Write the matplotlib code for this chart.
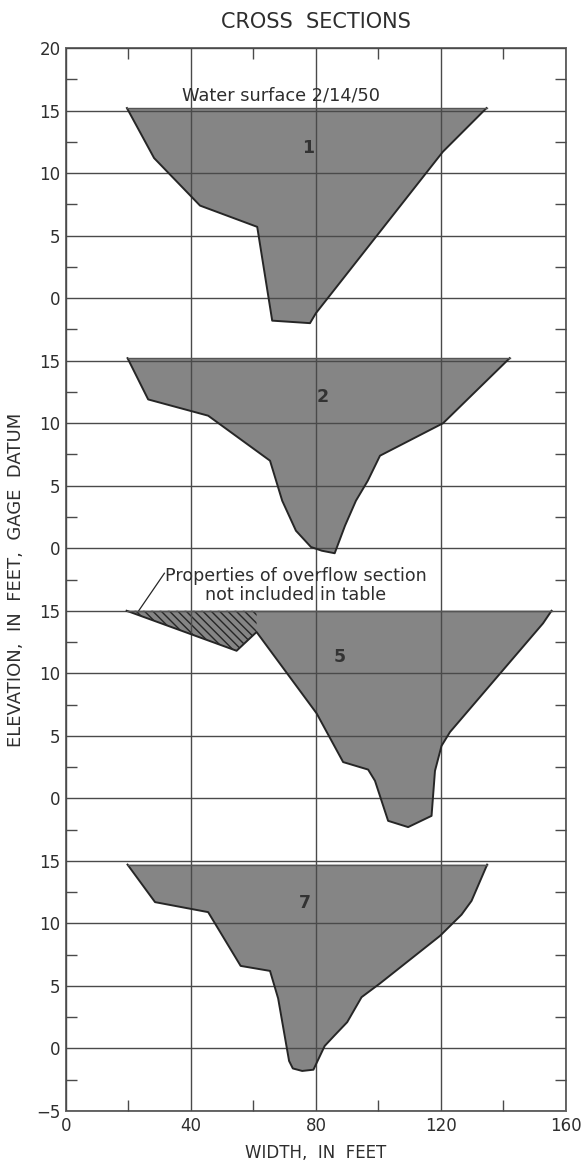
import matplotlib
matplotlib.use('Agg')
import matplotlib.pyplot as plt
import numpy as np

plt.rcParams['font.family'] = ['DejaVu Sans']
plt.rcParams['hatch.linewidth'] = 1.0

# cross sections: width (ft) and elevation (ft, gage datum)
sec1_x = [19.5, 28.2, 42.9, 61.2, 66.0, 78.1, 80.0, 120.6, 134.6]
sec1_y = [15.2, 11.2, 7.4, 5.7, -1.8, -2.0, -1.2, 11.7, 15.2]

sec2_x = [19.7, 26.3, 45.5, 65.3, 69.2, 73.6, 78.4, 81.9, 86.0, 89.3, 92.8, 96.6, 100.5, 120.7, 142.0]
sec2_y = [15.2, 11.9, 10.6, 7.0, 3.8, 1.4, 0.1, -0.2, -0.4, 1.8, 3.8, 5.4, 7.4, 10.0, 15.2]

sec5_x = [19.4, 54.6, 61.0, 80.2, 88.7, 96.7, 98.9, 103.1, 109.5, 117.0, 118.1, 120.2, 122.9, 152.7, 155.4]
sec5_y = [15.0, 11.8, 13.3, 6.8, 2.9, 2.3, 1.4, -1.8, -2.3, -1.4, 2.2, 4.2, 5.3, 14.0, 15.0]

sec7_x = [19.7, 28.5, 45.5, 55.9, 65.3, 67.9, 71.4, 72.6, 75.6, 79.2, 82.8, 85.8, 90.0, 94.6, 100.5, 119.7, 126.6, 129.8, 134.8]
sec7_y = [14.7, 11.7, 10.9, 6.6, 6.2, 4.0, -1.0, -1.6, -1.8, -1.7, 0.2, 1.0, 2.1, 4.1, 5.2, 9.0, 10.7, 11.8, 14.7]

# overflow part of section 5 (hatched)
overflow_x = [19.4, 54.6, 61.0, 61.0]
overflow_y = [15.0, 11.8, 13.3, 15.0]

section_names = ['1', '2', '5', '7']
section_offsets = [0, -20, -40, -60]
label_pos = [(77.4, 12.0), (82.2, 12.1), (87.7, 11.3), (76.5, 11.6)]

ytick_vals = np.arange(-65, 21, 5)
ytick_labels = ['\u22125', '0', '5', '10', '15', '0', '5', '10', '15',
                '0', '5', '10', '15', '0', '5', '10', '15', '20']

fill_col = '#858585'
edge_col = '#262626'
grid_col = '#4a4a4a'
text_col = '#2e2e2e'

fig = plt.figure(figsize=(5.84, 11.66), dpi=100)
ax = fig.add_axes([0.113, 0.0472, 0.856, 0.9116])

sections = [(sec1_x, sec1_y), (sec2_x, sec2_y), (sec5_x, sec5_y), (sec7_x, sec7_y)]
for (xs, ys), off, name, (lx, ly) in zip(sections, section_offsets, section_names, label_pos):
    ys = np.array(ys) + off
    ax.fill(xs, ys, facecolor=fill_col, edgecolor='none', zorder=0.5)
    ax.plot(xs, ys, color=edge_col, lw=1.4, zorder=3)
    ax.plot([xs[0], xs[-1]], [ys[0], ys[-1]], color='#555555', lw=1.0, zorder=3)
    ax.text(lx, ly + off, name, ha='center', va='center', fontsize=12.5,
            fontweight='bold', color='#333333', zorder=4)

# hatching on overflow part
ax.fill(overflow_x, np.array(overflow_y) - 40, facecolor='none', edgecolor=edge_col,
        hatch='\\\\\\\\', lw=0, zorder=2)

ax.text(68.8, 16.2, 'Water surface 2/14/50', ha='center', va='center',
        fontsize=12.8, color=text_col)
ax.text(73.6, -23.0, 'Properties of overflow section\nnot included in table',
        ha='center', va='center', fontsize=12.6, color=text_col, linespacing=1.1)
ax.plot([31.5, 23.0], [-22.0, -25.1], color=edge_col, lw=0.9)

ax.set_xlim(0, 160)
ax.set_ylim(-65, 20)
ax.set_xticks([0, 40, 80, 120, 160])
ax.set_xticks([20, 60, 100, 140], minor=True)
ax.set_yticks(ytick_vals)
ax.set_yticklabels(ytick_labels)
ax.set_yticks(np.arange(-62.5, 20, 5), minor=True)

ax.tick_params(axis='both', which='major', length=0, labelsize=12, labelcolor=text_col, pad=4)
ax.tick_params(axis='both', which='minor', direction='in', length=8, width=1.0,
               color=grid_col, top=True, right=True)
ax.grid(which='major', color=grid_col, lw=1.0, zorder=1)
ax.set_axisbelow(False)
for s in ax.spines.values():
    s.set_color('#666666')
    s.set_linewidth(1.4)

ax.set_xlabel('WIDTH,  IN  FEET', fontsize=12, color=text_col, labelpad=7)
ax.set_ylabel('ELEVATION,  IN  FEET,  GAGE  DATUM', fontsize=13, color=text_col, labelpad=8)
fig.text(0.541, 0.981, 'CROSS  SECTIONS', ha='center', va='center', fontsize=15, color=text_col)

fig.savefig('out.png', dpi=100)
